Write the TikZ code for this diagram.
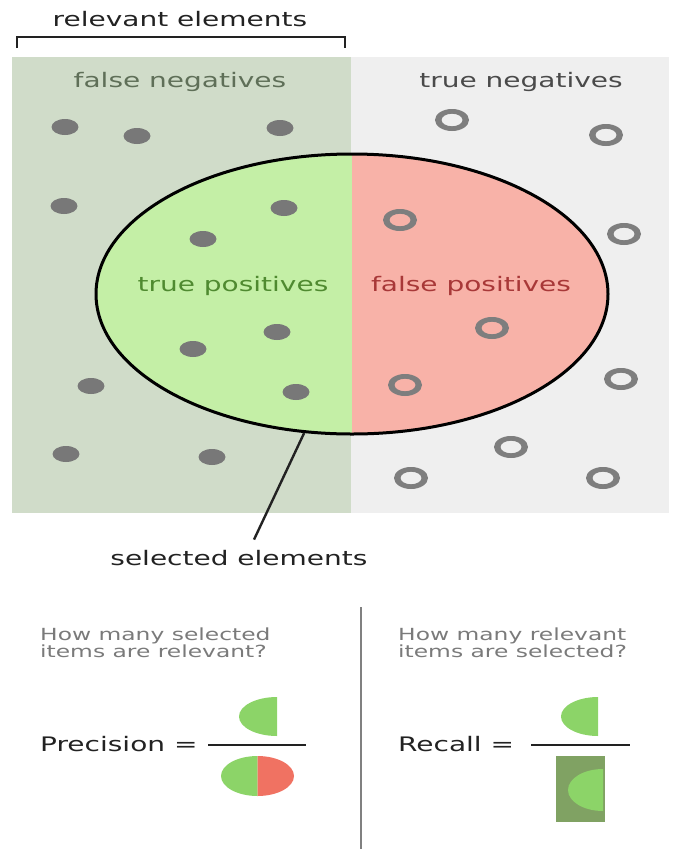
\documentclass[tikz,border=0pt]{standalone}
\usepackage{fontspec}
\setmainfont[FakeStretch=1.4]{DejaVu Sans}
\usetikzlibrary{shapes.geometric,calc}

\definecolor{relbg}{HTML}{D0DCC9}
\definecolor{irrbg}{HTML}{EFEFEF}
\definecolor{tpfill}{HTML}{C4EFA6}
\definecolor{fpfill}{HTML}{F8B2A8}
\definecolor{dotgray}{HTML}{787878}
\definecolor{ringgray}{HTML}{7E7E7E}
\definecolor{fntext}{HTML}{5F6F58}
\definecolor{tntext}{HTML}{4A4A4A}
\definecolor{tptext}{HTML}{4F8A30}
\definecolor{fptext}{HTML}{A83838}
\definecolor{qtext}{HTML}{7A7A7A}
\definecolor{hitgreen}{HTML}{8CD468}
\definecolor{missred}{HTML}{F07262}
\definecolor{relgreen}{HTML}{80A263}
\definecolor{inkdark}{HTML}{222222}

% filled dot = relevant item, ring = irrelevant item
\newcommand\reldot[1]{\fill[dotgray] (#1) ellipse [x radius=13.5pt, y radius=8pt];}
\newcommand\irrring[1]{\fill[ringgray, even odd rule] (#1) ellipse [x radius=17pt, y radius=11pt] (#1) ellipse [x radius=10.5pt, y radius=6.3pt];}

\begin{document}
\begin{tikzpicture}[x=1pt, y=-1pt,
  biglabel/.style={inner sep=0pt, anchor=base, font=\fontsize{20}{24}\selectfont},
  question/.style={inner sep=0pt, anchor=north west, align=left, text=qtext,
                   font=\fontsize{16.7}{16.5}\selectfont},
  formula/.style={inner sep=0pt, anchor=base west, text=inkdark,
                  font=\fontsize{20}{24}\selectfont},
  fracbar/.style={line width=1.5pt, inkdark},
]
\useasboundingbox (0,0) rectangle (682,849);

% relevant / irrelevant halves of the item set
\fill[relbg] (12,57) rectangle (351,513);
\fill[irrbg] (351,57) rectangle (669,513);

% bracket over the relevant half
\draw[line width=2.5pt, inkdark] (17,48) -- (17,37) -- (345,37) -- (345,48);
\node[biglabel, text=inkdark] (relev) at (180,26.5) {relevant elements};

\node[biglabel, text=fntext] (fn) at (180,87) {false negatives};
\node[biglabel, text=tntext] (tn) at (521,87) {true negatives};

% selected set: green half on relevant side, red half on irrelevant side
\begin{scope}
  \clip (90,150) rectangle (352,440);
  \fill[tpfill] (352,294) ellipse [x radius=256pt, y radius=140pt];
\end{scope}
\begin{scope}
  \clip (352,150) rectangle (620,440);
  \fill[fpfill] (352,294) ellipse [x radius=256pt, y radius=140pt];
\end{scope}
\node[ellipse, draw, line width=3pt, minimum width=512pt, minimum height=280pt, inner sep=0pt] (sel) at (352,294) {};

\node[biglabel, text=tptext] (tp) at (233,291) {true positives};
\node[biglabel, text=fptext] (fp) at (471,291) {false positives};

% relevant items
\reldot{65,127}
\reldot{137,136}
\reldot{280,128}
\reldot{64,206}
\reldot{284,208}
\reldot{203,239}
\reldot{277,332}
\reldot{193,349}
\reldot{91,386}
\reldot{296,392}
\reldot{66,454}
\reldot{212,457}

% irrelevant items
\irrring{452,120}
\irrring{606,135}
\irrring{400,220}
\irrring{624,234}
\irrring{492,328}
\irrring{405,385}
\irrring{621,379}
\irrring{511,447}
\irrring{411,478}
\irrring{603,478}

% pointer to the selected set
\node[biglabel, text=inkdark] (selname) at (239,565) {selected elements};
\draw[line width=2.4pt, inkdark] (sel.251) -- ($(selname.north)+(15,-10)$);

% divider between the two measures
\draw[line width=1.5pt, gray] (361,607) -- (361,849);

% precision
\node[question] (qprec) at (40,628) {How many selected\\items are relevant?};
\node[formula] (prec) at (40,751) {Precision =};
\draw[fracbar] (208,745) -- (306,745);
\fill[hitgreen] (277,697) arc[start angle=90, end angle=270, x radius=38pt, y radius=19.5pt] -- cycle;
\fill[hitgreen] (257.5,756) arc[start angle=90, end angle=270, x radius=36.5pt, y radius=20pt] -- cycle;
\fill[missred] (257.5,756) arc[start angle=90, end angle=-90, x radius=36.5pt, y radius=20pt] -- cycle;

% recall
\node[question] (qrec) at (398,628) {How many relevant\\items are selected?};
\node[formula] (rec) at (398,751) {Recall =};
\draw[fracbar] (531,745) -- (630,745);
\fill[hitgreen] (598,697) arc[start angle=90, end angle=270, x radius=37pt, y radius=19.5pt] -- cycle;
\fill[relgreen] (556,756) rectangle (605,822);
\fill[hitgreen] (603,769) arc[start angle=90, end angle=270, x radius=35pt, y radius=21pt] -- cycle;
\end{tikzpicture}
\end{document}
